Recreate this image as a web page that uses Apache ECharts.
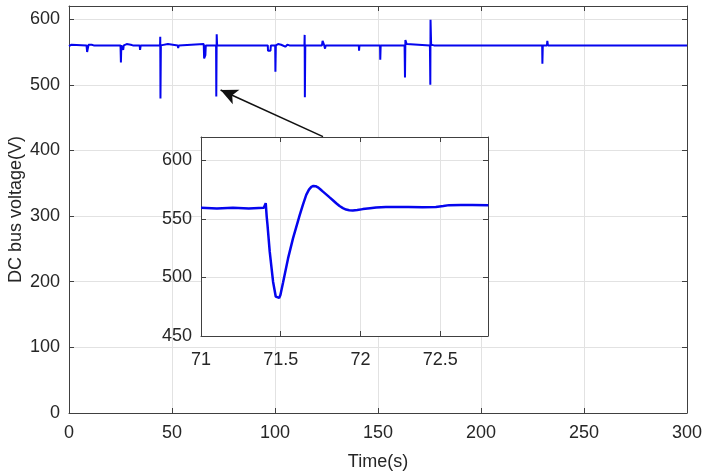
<!DOCTYPE html>
<html>
<head>
<meta charset="utf-8">
<script src="https://cdn.jsdelivr.net/npm/echarts@6/dist/echarts.min.js"></script>
<style>
  html, body { margin: 0; padding: 0; background: #fff; }
  #chart { width: 702px; height: 473px; }
</style>
</head>
<body>
<div id="chart"></div>
<script>
// main trace: time (s) and DC bus voltage (V)
var mainTime = [0, 1.2, 2, 8.5, 8.8, 9.2, 9.5, 11, 12, 15, 15.2, 15.5, 25, 25.2, 25.4, 26.2, 26.3, 26.6,
    27.5, 28, 30, 31, 34.3, 34.5, 34.8, 44.2, 44.3, 44.4, 44.6, 45.5, 48, 48.5, 52.8, 53, 53.3,
    65.4, 65.6, 66.2, 66.4, 71.4, 71.5, 71.7, 71.9, 72.5, 73.5, 79, 79.4, 80, 96.5, 96.6, 97.8, 98,
    100.1, 100.2, 100.4, 101.5, 103, 105, 106, 107, 114.3, 114.4, 114.5, 114.7, 122.8, 123.1, 123.8,
    124.3, 124.6, 140.7, 140.8, 141, 151, 151.1, 151.3, 162.9, 163.1, 163.3, 163.9, 164.3,
    175.2, 175.4, 175.5, 175.8, 176.5, 177.2, 185.5, 185.8, 186.2, 229.7, 229.8, 230, 232, 232.2,
    232.5, 300];
var mainVolt = [559, 561, 560, 560, 550, 550, 561, 561, 560, 560, 562, 560, 560, 534, 560, 560, 553, 560,
    557, 562, 561, 560, 560, 553, 560, 560, 573, 479, 560, 562, 562, 560, 560, 556, 560,
    562, 540, 545, 560, 560, 482, 577, 560, 561, 560, 560, 562, 560, 560, 552, 552, 560,
    560, 520, 560, 562, 561, 558, 561, 560, 560, 576, 481, 560, 560, 567, 561,
    555, 560, 560, 552, 560, 560, 538, 560, 560, 511, 568, 562, 560,
    560, 500, 599, 561, 563, 560, 560, 562, 560, 560, 532, 560, 560, 567,
    560, 560];

// zoomed trace around t = 71.5 s
var zoomTime = [71.0, 71.1, 71.2, 71.3, 71.394, 71.406, 71.412, 71.417, 71.431, 71.452, 71.469, 71.479,
    71.49, 71.498, 71.515, 71.546, 71.577, 71.619, 71.64, 71.66, 71.677, 71.692, 71.705, 71.719,
    71.733, 71.748, 71.765, 71.785, 71.805, 71.827, 71.848, 71.869, 71.89, 71.91, 71.93, 71.952,
    71.98, 72.015, 72.06, 72.098, 72.16, 72.223, 72.3, 72.39, 72.473, 72.52, 72.556, 72.63, 72.702, 72.802];
var zoomVolt = [559.5, 559, 559.5, 559, 559.5, 563.5, 552, 545, 522, 496.4, 483.6, 482.2,
    482.5, 485, 496, 516.3, 533.4, 553.2, 562.5, 570.5, 575, 577.4, 578.2, 578,
    577, 575.4, 573.3, 571, 568.6, 566, 563.4, 561, 559.2, 558, 557.4, 557.2,
    557.6, 558.4, 559.2, 559.8, 560.1, 560.3, 560.2, 560, 560.3, 561, 561.8, 562, 562, 561.8];

// arrow from the inset to the spike it magnifies
var arrowFrom = [123.3, 421];
var arrowTo = [73.6, 492];

var mainTicksX = { min: 0, max: 300, interval: 50 };
var mainTicksY = { min: 0, max: 620, interval: 100 };
var zoomTicksX = { min: 71, max: 72.8, interval: 0.5 };
var zoomTicksY = { min: 450, max: 620, interval: 50 };

function pairs(xs, ys) {
    var out = [];
    for (var i = 0; i < xs.length; i++) out.push([xs[i], ys[i]]);
    return out;
}

var font = 'Liberation Sans';
var fontSize = 18;
var axisColor = '#404040';
var gridColor = '#e2e2e2';
var lineColor = '#0505ee';

function axis(opts, gridIndex, position, showLabels, hideMax, z) {
    return {
        type: 'value',
        gridIndex: gridIndex,
        position: position,
        min: opts.min,
        max: opts.max,
        interval: opts.interval,
        z: z,
        axisLine: { show: true, onZero: false, lineStyle: { color: axisColor, width: 1 } },
        axisTick: { show: true, inside: true, length: 5, lineStyle: { color: axisColor } },
        axisLabel: {
            show: showLabels,
            showMaxLabel: !hideMax,
            color: '#262626',
            fontFamily: font,
            fontSize: fontSize,
            margin: 9
        },
        splitLine: { show: showLabels, lineStyle: { color: gridColor, width: 1 } }
    };
}

var xMain = axis(mainTicksX, 0, 'bottom', true, false, 0);
xMain.axisLabel.margin = 11;
xMain.name = 'Time(s)';
xMain.nameLocation = 'middle';
xMain.nameGap = 40;
xMain.nameTextStyle = { color: '#262626', fontFamily: font, fontSize: fontSize };
var yMain = axis(mainTicksY, 0, 'left', true, true, 0);
yMain.name = 'DC bus voltage(V)';
yMain.nameLocation = 'middle';
yMain.nameGap = 44;
yMain.nameMoveOverlap = false;
yMain.nameTextStyle = { color: '#262626', fontFamily: font, fontSize: fontSize };

var xZoom = axis(zoomTicksX, 1, 'bottom', true, true, 11);
xZoom.axisLabel.margin = 15;
var yZoom = axis(zoomTicksY, 1, 'left', true, true, 11);

var chart = echarts.init(document.getElementById('chart'));

var option = {
    animation: false,
    backgroundColor: '#fff',
    grid: [
        { left: 69, right: 15, top: 6, bottom: 60, outerBoundsMode: 'none', containLabel: false },
        { left: 201, right: 214, top: 137, bottom: 137, outerBoundsMode: 'none', containLabel: false,
          show: true, backgroundColor: '#fff', borderWidth: 0, z: 10 }
    ],
    xAxis: [
        xMain,
        axis(mainTicksX, 0, 'top', false, true, 0),
        xZoom,
        axis(zoomTicksX, 1, 'top', false, true, 11)
    ],
    yAxis: [
        yMain,
        axis(mainTicksY, 0, 'right', false, true, 0),
        yZoom,
        axis(zoomTicksY, 1, 'right', false, true, 11)
    ],
    series: [
        {
            type: 'line',
            xAxisIndex: 0,
            yAxisIndex: 0,
            data: pairs(mainTime, mainVolt),
            showSymbol: false,
            lineStyle: { color: lineColor, width: 2 },
            z: 3,
            markLine: {
                silent: true,
                symbol: ['none', 'arrow'],
                symbolSize: [12, 17],
                label: { show: false },
                lineStyle: { color: '#111', width: 1.6, type: 'solid' },
                data: [[{ coord: arrowFrom }, { coord: arrowTo }]]
            }
        },
        {
            type: 'line',
            xAxisIndex: 2,
            yAxisIndex: 2,
            data: pairs(zoomTime, zoomVolt),
            showSymbol: false,
            lineStyle: { color: lineColor, width: 2.5 },
            z: 12
        }
    ]
};

chart.setOption(option);
</script>
</body>
</html>
